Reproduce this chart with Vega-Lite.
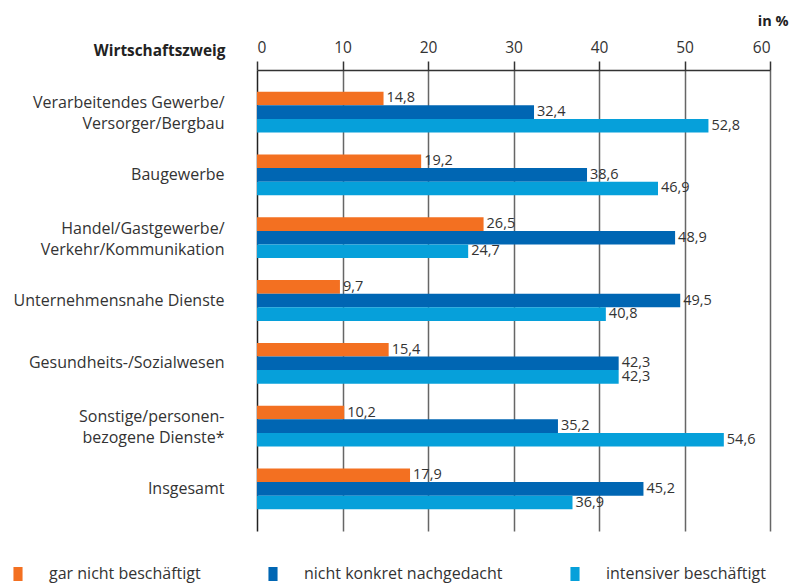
{
  "$schema": "https://vega.github.io/schema/vega-lite/v6.json",
  "width": 513,
  "height": 461,
  "autosize": {"type": "none"},
  "padding": {"left": 257, "top": 70, "right": 20, "bottom": 53},
  "background": "white",
  "data": {
    "values": [
      {"cat": "Verarbeitendes Gewerbe/\nVersorger/Bergbau", "series": "gar nicht beschäftigt", "value": 14.8},
      {"cat": "Verarbeitendes Gewerbe/\nVersorger/Bergbau", "series": "nicht konkret nachgedacht", "value": 32.4},
      {"cat": "Verarbeitendes Gewerbe/\nVersorger/Bergbau", "series": "intensiver beschäftigt", "value": 52.8},
      {"cat": "Baugewerbe", "series": "gar nicht beschäftigt", "value": 19.2},
      {"cat": "Baugewerbe", "series": "nicht konkret nachgedacht", "value": 38.6},
      {"cat": "Baugewerbe", "series": "intensiver beschäftigt", "value": 46.9},
      {"cat": "Handel/Gastgewerbe/\nVerkehr/Kommunikation", "series": "gar nicht beschäftigt", "value": 26.5},
      {"cat": "Handel/Gastgewerbe/\nVerkehr/Kommunikation", "series": "nicht konkret nachgedacht", "value": 48.9},
      {"cat": "Handel/Gastgewerbe/\nVerkehr/Kommunikation", "series": "intensiver beschäftigt", "value": 24.7},
      {"cat": "Unternehmensnahe Dienste", "series": "gar nicht beschäftigt", "value": 9.7},
      {"cat": "Unternehmensnahe Dienste", "series": "nicht konkret nachgedacht", "value": 49.5},
      {"cat": "Unternehmensnahe Dienste", "series": "intensiver beschäftigt", "value": 40.8},
      {"cat": "Gesundheits-/Sozialwesen", "series": "gar nicht beschäftigt", "value": 15.4},
      {"cat": "Gesundheits-/Sozialwesen", "series": "nicht konkret nachgedacht", "value": 42.3},
      {"cat": "Gesundheits-/Sozialwesen", "series": "intensiver beschäftigt", "value": 42.3},
      {"cat": "Sonstige/personen-\nbezogene Dienste*", "series": "gar nicht beschäftigt", "value": 10.2},
      {"cat": "Sonstige/personen-\nbezogene Dienste*", "series": "nicht konkret nachgedacht", "value": 35.2},
      {"cat": "Sonstige/personen-\nbezogene Dienste*", "series": "intensiver beschäftigt", "value": 54.6},
      {"cat": "Insgesamt", "series": "gar nicht beschäftigt", "value": 17.9},
      {"cat": "Insgesamt", "series": "nicht konkret nachgedacht", "value": 45.2},
      {"cat": "Insgesamt", "series": "intensiver beschäftigt", "value": 36.9}
    ]
  },
  "encoding": {
    "y": {
      "field": "cat",
      "type": "nominal",
      "sort": null,
      "scale": {"paddingInner": 0.35, "paddingOuter": 0.345},
      "axis": {
        "title": "Wirtschaftszweig",
        "titleAngle": 0,
        "titleX": -32,
        "titleY": -20,
        "titleAlign": "right",
        "titleBaseline": "middle",
        "titleFont": "Open Sans",
        "titleFontSize": 15.4,
        "titleFontWeight": "bold",
        "titleColor": "#222",
        "labelExpr": "split(datum.label, '\\n')",
        "labelFont": "Open Sans",
        "labelFontSize": 16,
        "labelColor": "#333",
        "labelLineHeight": 21,
        "labelOffset": {"condition": {"test": "indexof(datum.value, '\\n') >= 0", "value": -9}, "value": 0},
        "labelPadding": 33,
        "labelLimit": 300,
        "ticks": false,
        "tickSize": 0,
        "domain": false,
        "grid": false
      }
    },
    "x": {
      "field": "value",
      "type": "quantitative",
      "scale": {"domain": [0, 60], "nice": false},
      "axis": {
        "orient": "top",
        "values": [0, 10, 20, 30, 40, 50, 60],
        "format": "d",
        "title": "in %",
        "titleX": 531,
        "titleY": -49,
        "titleAlign": "right",
        "titleBaseline": "middle",
        "titleFont": "Open Sans",
        "titleFontSize": 14.5,
        "titleFontWeight": "bold",
        "titleColor": "#222",
        "labelFont": "Open Sans",
        "labelFontSize": 15.5,
        "labelColor": "#333",
        "labelPadding": 6,
        "tickSize": 9,
        "tickColor": "#333",
        "tickWidth": 1.5,
        "domainColor": "#333",
        "domainWidth": 1.5,
        "grid": true,
        "gridColor": {"condition": {"test": "datum.value == 0", "value": "#222"}, "value": "#666"},
        "gridWidth": 1.5
      }
    },
    "yOffset": {
      "field": "series",
      "type": "nominal",
      "sort": ["gar nicht beschäftigt", "nicht konkret nachgedacht", "intensiver beschäftigt"],
      "scale": {"paddingInner": 0, "paddingOuter": 0}
    }
  },
  "layer": [
    {
      "mark": {"type": "bar"},
      "encoding": {
        "color": {
          "field": "series",
          "type": "nominal",
          "sort": ["gar nicht beschäftigt", "nicht konkret nachgedacht", "intensiver beschäftigt"],
          "scale": {
            "domain": ["gar nicht beschäftigt", "nicht konkret nachgedacht", "intensiver beschäftigt"],
            "range": ["#F37021", "#0066B3", "#06A0DA"]
          },
          "legend": {
            "title": null,
            "orient": "none",
            "direction": "horizontal",
            "legendX": -247,
            "legendY": 496,
            "symbolType": "M-0.65,-1H0.65V1H-0.65Z",
            "symbolSize": 196,
            "symbolStrokeWidth": 0,
            "symbolOpacity": 1,
            "labelOffset": 23,
            "labelFont": "Open Sans",
            "labelFontSize": 16,
            "labelColor": "#333",
            "labelLimit": 300,
            "columnPadding": 64
          }
        }
      }
    },
    {
      "mark": {"type": "text", "align": "left", "baseline": "middle", "dx": 3, "font": "Open Sans", "fontSize": 14.5, "color": "#333"},
      "encoding": {
        "text": {"field": "value", "type": "quantitative", "format": ".1f"}
      }
    }
  ],
  "config": {
    "locale": {"number": {"decimal": ",", "thousands": ".", "grouping": [3], "currency": ["", " €"]}},
    "view": {"stroke": null}
  }
}
